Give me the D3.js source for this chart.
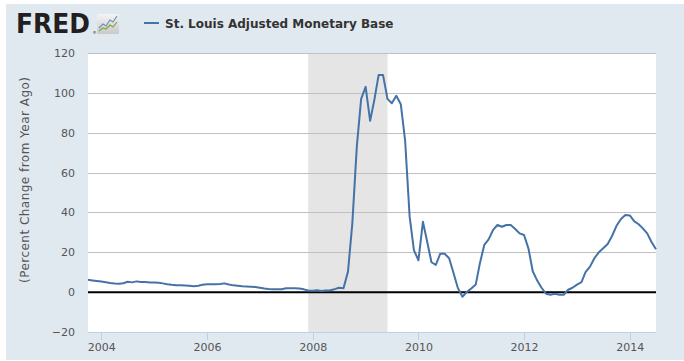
<!DOCTYPE html>
<html>
<head>
<meta charset="utf-8">
<script src="https://cdn.jsdelivr.net/npm/d3@7"></script>
<style>
  html, body { margin: 0; padding: 0; background: #ffffff; }
  svg { display: block; }
</style>
</head>
<body>
<svg id="chart" width="684" height="361"></svg>
<script>
// ---- Data ----
const startMonth = "2003-10";
const values = [
  6.2, 5.9, 5.6,
  5.3, 5.0, 4.6, 4.3, 4.2, 4.5, 5.2, 4.9, 5.4, 5.1, 5.1, 4.8,
  4.8, 4.7, 4.4, 4.0, 3.7, 3.5, 3.4, 3.3, 3.2, 3.0, 3.2, 3.7,
  3.9, 4.0, 4.0, 4.1, 4.4, 3.8, 3.4, 3.2, 2.9, 2.8, 2.7, 2.6,
  2.2, 1.8, 1.6, 1.5, 1.5, 1.5, 2.0, 1.9, 1.9, 1.8, 1.4, 0.8,
  0.7, 0.9, 0.6, 0.8, 1.0, 1.5, 2.2, 2.0, 10.3, 34.5, 73, 97,
  103, 86, 96, 109, 109, 97, 94.8, 98.5, 94.3, 76, 38, 21,
  16, 35.3, 25.8, 15, 13.7, 19.3, 19.3, 17, 9.5, 2, -2.3, 0,
  1.8, 3.8, 14.2, 23.7, 26.5, 31.2, 33.7, 32.8, 33.7, 33.7, 31.7, 29.5,
  28.7, 21.7, 10.5, 5.8, 2.2, -0.8, -1.3, -0.8, -1.3, -1.3, 1.2, 2.2,
  3.8, 5, 10, 12.8, 17, 20, 22, 24.2, 28.3, 33.3, 36.7, 38.7,
  38.5, 35.5, 34.2, 32, 29.5, 25, 21.5
];
const recession = ["2007-12-01", "2009-06-01"];
const yTicks = [-20, 0, 20, 40, 60, 80, 100, 120];
const xTickYears = [2004, 2006, 2008, 2010, 2012, 2014];
const seriesName = "St. Louis Adjusted Monetary Base";
const yTitle = "(Percent Change from Year Ago)";

// ---- Build ----
const parseMonth = d3.utcParse("%Y-%m");
const parseDay = d3.utcParse("%Y-%m-%d");
const t0 = parseMonth(startMonth);
const data = values.map((v, i) => ({ date: d3.utcMonth.offset(t0, i), value: v }));

const svg = d3.select("#chart");
const W = 684, H = 361;
const plot = { left: 88, right: 656, top: 53, bottom: 332 };

// backgrounds
svg.append("rect").attr("x", 0).attr("y", 0).attr("width", W).attr("height", H).attr("fill", "#ffffff");
svg.append("rect").attr("x", 6).attr("y", 4).attr("width", W - 6).attr("height", 356).attr("fill", "#e1e9f0");
svg.append("rect").attr("x", plot.left).attr("y", plot.top)
  .attr("width", plot.right - plot.left).attr("height", plot.bottom - plot.top).attr("fill", "#ffffff");

const x = d3.scaleUtc()
  .domain([data[0].date, data[data.length - 1].date])
  .range([plot.left, plot.right]);
const y = d3.scaleLinear().domain([-20, 120]).range([plot.bottom, plot.top]);

// recession shading
svg.append("rect")
  .attr("x", x(parseDay(recession[0])))
  .attr("y", plot.top)
  .attr("width", x(parseDay(recession[1])) - x(parseDay(recession[0])))
  .attr("height", plot.bottom - plot.top)
  .attr("fill", "#e5e5e5");

// gridlines
const yAxis = d3.axisLeft(y).tickValues(yTicks)
  .tickSize(-(plot.right - plot.left)).tickPadding(13).tickFormat(d3.format("d"));
const gy = svg.append("g").attr("transform", `translate(${plot.left},0)`).call(yAxis);
gy.select(".domain").remove();
gy.selectAll(".tick line").attr("stroke", "#c0c0c0").attr("stroke-width", 1)
  .attr("shape-rendering", "crispEdges")
  .filter(d => d === -20).remove();
gy.selectAll(".tick text")
  .attr("fill", "#555555")
  .attr("font-family", "DejaVu Sans, Verdana, sans-serif")
  .attr("font-size", "11px");

// x axis
const xAxis = d3.axisBottom(x)
  .tickValues(xTickYears.map(yr => new Date(Date.UTC(yr, 0, 1))))
  .tickSize(8).tickPadding(3).tickFormat(d3.utcFormat("%Y"));
const gx = svg.append("g").attr("transform", `translate(0,${plot.bottom})`).call(xAxis);
gx.select(".domain").attr("stroke", "#c0d0e0").attr("stroke-width", 1)
  .attr("d", `M${plot.left},0.5H${plot.right}`);
gx.selectAll(".tick line").attr("stroke", "#c0d0e0").attr("shape-rendering", "crispEdges");
gx.selectAll(".tick text")
  .attr("fill", "#555555")
  .attr("font-family", "DejaVu Sans, Verdana, sans-serif")
  .attr("font-size", "11px");

// zero line
svg.append("line")
  .attr("x1", plot.left).attr("x2", plot.right)
  .attr("y1", y(0)).attr("y2", y(0))
  .attr("stroke", "#000000").attr("stroke-width", 2);

// series line
const line = d3.line().x(d => x(d.date)).y(d => y(d.value));
svg.append("path").datum(data)
  .attr("d", line)
  .attr("fill", "none")
  .attr("stroke", "#4572a7")
  .attr("stroke-width", 2)
  .attr("stroke-linejoin", "round");

// y title
svg.append("text")
  .attr("transform", `translate(29,180) rotate(-90)`)
  .attr("text-anchor", "middle")
  .attr("fill", "#555555")
  .attr("font-family", "DejaVu Sans, Verdana, sans-serif")
  .attr("font-size", "12px")
  .attr("textLength", 206)
  .text(yTitle);

// FRED logo
svg.append("text")
  .attr("x", 16).attr("y", 33)
  .attr("fill", "#231f20")
  .attr("font-family", "DejaVu Sans, Arial, sans-serif")
  .attr("font-weight", "900")
  .attr("font-size", "26px")
  .attr("textLength", 74)
  .attr("lengthAdjust", "spacingAndGlyphs")
  .text("FRED");
svg.append("text")
  .attr("x", 92.5).attr("y", 34)
  .attr("fill", "#231f20")
  .attr("font-family", "DejaVu Sans, sans-serif")
  .attr("font-size", "4px")
  .text("®");
const defs = svg.append("defs");
const grad = defs.append("linearGradient").attr("id", "ig").attr("x1", 0).attr("y1", 0).attr("x2", 0).attr("y2", 1);
grad.append("stop").attr("offset", "0%").attr("stop-color", "#f4f4f4");
grad.append("stop").attr("offset", "100%").attr("stop-color", "#c9c9c9");
const icon = svg.append("g").attr("transform", "translate(97,14)");
icon.append("rect").attr("width", 22).attr("height", 20).attr("rx", 1).attr("fill", "url(#ig)");
icon.append("path").attr("d", "M2,14 L6,10 L9,12 L13,6 L16,8 L20,2")
  .attr("fill", "none").attr("stroke", "#6f8fb8").attr("stroke-width", 1.2);
icon.append("path").attr("d", "M2,17 L6,14 L9,15 L13,11 L16,13 L20,8")
  .attr("fill", "none").attr("stroke", "#77a83f").attr("stroke-width", 1.2);

// legend
svg.append("line")
  .attr("x1", 144).attr("x2", 159).attr("y1", 23).attr("y2", 23)
  .attr("stroke", "#4572a7").attr("stroke-width", 2);
svg.append("text")
  .attr("x", 165).attr("y", 27.5)
  .attr("fill", "#333333")
  .attr("font-family", "DejaVu Sans, Verdana, sans-serif")
  .attr("font-weight", "bold")
  .attr("font-size", "12px")
  .text(seriesName);
</script>
</body>
</html>
